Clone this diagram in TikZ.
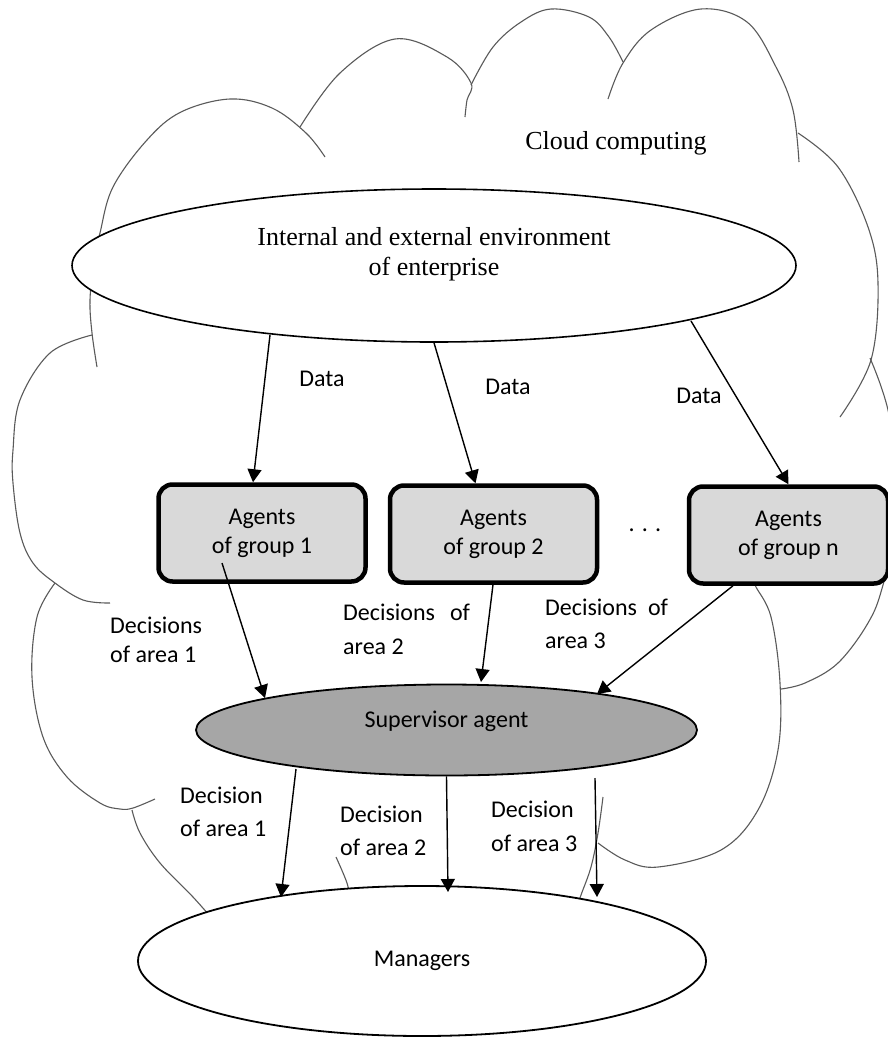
\documentclass[tikz,border=0pt]{standalone}
\usepackage{fontspec}
\setmainfont{Carlito}
\newfontfamily\tnr{Liberation Serif}
\usetikzlibrary{arrows.meta,shapes.geometric,calc}
\definecolor{boxgray}{HTML}{D9D9D9}
\definecolor{supgray}{HTML}{A6A6A6}
\definecolor{cloudgray}{HTML}{5A5A5A}
\begin{document}
\begin{tikzpicture}[x=1pt,y=1pt,
  cloudline/.style={draw=cloudgray, line width=1.1pt},
  ell/.style={ellipse, draw=black, line width=1.6pt, fill=white, inner sep=0pt},
  agentbox/.style={rectangle, rounded corners=14pt, draw=black, line width=4.5pt,
    fill=boxgray, minimum width=207pt, minimum height=97pt, inner sep=0pt,
    align=center, font=\fontsize{24}{29}\selectfont},
  arr/.style={-{Triangle[length=13pt,width=14pt]}, line width=1.4pt},
  lbl/.style={align=left, anchor=west, inner sep=0pt},
  sans/.style={inner sep=0pt, font=\fontsize{24}{29}\selectfont},
  serif/.style={inner sep=0pt, align=center, font=\tnr\fontsize{26}{30}\selectfont},
]
\useasboundingbox (0,0) rectangle (888,-1037);
\fill[white] (0,0) rectangle (888,-1037);

% cloud outline
\begin{scope}
\clip (0,0) rectangle (888,-1037);
\draw[cloudline] plot[smooth,tension=0.6] coordinates {(97,-367) (92,-333) (90,-300) (94,-262) (100,-233) (113,-187) (147,-140) (181,-112) (230,-99) (272,-108) (306,-133) (325,-157)};
\draw[cloudline] plot[smooth,tension=0.6] coordinates {(300,-127) (340,-73) (395,-39) (447,-57) (471,-83) (467,-100) (465,-117)};
\draw[cloudline] plot[smooth,tension=0.6] coordinates {(471,-85) (493,-47) (521,-22) (551,-9) (589,-17) (609,-37) (623,-62)};
\draw[cloudline] plot[smooth,tension=0.6] coordinates {(608,-99) (623,-63) (651,-30) (701,-9) (747,-22) (776,-67) (793,-110) (799,-162)};
\draw[cloudline] plot[smooth,tension=0.6] coordinates {(798,-133) (838,-167) (868,-227) (878,-283) (871,-360) (840,-417)};
\draw[cloudline] plot[smooth,tension=0.6] coordinates {(870,-358) (888,-410) (903,-500) (883,-585) (868,-623) (838,-663) (805,-683) (781,-689)};
\draw[cloudline] plot[smooth,tension=0.6] coordinates {(752,-572) (755,-585) (771,-617) (780,-683) (778,-750) (758,-810) (721,-850) (658,-867) (625,-860) (598,-843)};
\draw[cloudline] plot[smooth,tension=0.6] coordinates {(603,-797) (598,-833) (591,-867) (581,-895) (576,-910)};
\draw[cloudline] plot[smooth,tension=0.6] coordinates {(336,-857) (347,-883) (350,-900)};
\draw[cloudline] plot[smooth,tension=0.6] coordinates {(132,-810) (140,-833) (160,-863) (193,-897) (215,-922)};
\draw[cloudline] plot[smooth,tension=0.6] coordinates {(55,-583) (37,-617) (32,-677) (43,-737) (67,-777) (100,-803) (120,-809) (133,-808) (155,-799)};
\draw[cloudline] plot[smooth,tension=0.6] coordinates {(92,-335) (50,-353) (20,-400) (13,-450) (13,-483) (20,-533) (33,-563) (55,-583) (83,-600) (110,-603)};
\end{scope}

\node[serif] (cloudtxt) at (616,-143) {Cloud computing};

% environment
\node[ell, minimum width=724pt, minimum height=153pt] (env) at (434,-265.5) {};
\node[serif] (envtxt) at (434,-254) {Internal and external environment\\of enterprise};

% agent groups
\node[agentbox] (g1) at (262,-533) {Agents\\of group 1};
\node[agentbox] (g2) at (493.5,-534) {Agents\\of group 2};
\node[agentbox, minimum width=199pt] (gn) at (788.5,-535) {Agents\\of group n};
\node[sans] (dots) at (645,-530) {. . .};

% supervisor and managers
\node[ell, fill=supgray, line width=1.8pt, minimum width=501pt, minimum height=91pt] (sup) at (446.5,-730) {};
\node[sans] (suptxt) at (446.5,-721) {Supervisor agent};
\node[ell, line width=1.8pt, minimum width=568pt, minimum height=150pt, font=\fontsize{24}{29}\selectfont] (mgr) at (422,-961) {Managers};

% data arrows
\draw[arr] ($(env.center)+(-164,-69.5)$) -- ($(g1.north)+(-9,0)$);
\draw[arr] (env.south) -- ($(g2.north)+(-18,0)$);
\draw[arr] ($(env.center)+(257,-55.5)$) -- ($(gn.north)+(0,0)$);
\node[sans] (data1) at (322,-379) {Data};
\node[sans] (data2) at (508,-387) {Data};
\node[sans] (data3) at (699,-396) {Data};

% decisions arrows
\draw[arr] ($(g1.center)+(-40,-30)$) -- ($(sup.center)+(-181.5,32)$);
\draw[arr] ($(g2.south)+(-0.5,0)$) -- ($(sup.center)+(34.5,48)$);
\draw[arr] ($(gn.south)+(-55.5,0)$) -- ($(sup.center)+(150.5,36)$);
\node[lbl, font=\fontsize{24}{29}\selectfont] (lbl1) at (110,-639.5) {Decisions\\of area 1};
\node[lbl, font=\fontsize{24}{34}\selectfont] (lbl2) at (343,-629) {Decisions\hspace{15pt}of\\area 2};
\node[lbl, font=\fontsize{24}{33}\selectfont] (lbl3) at (545,-623.5) {Decisions\hspace{11pt}of\\area 3};

% decision arrows to managers
\draw[arr] ($(sup.center)+(-150.5,-39)$) -- ($(mgr.center)+(-141,64)$);
\draw[arr] (sup.south) -- ($(mgr.center)+(26,69)$);
\draw[arr] ($(sup.center)+(148.5,-48)$) -- ($(mgr.center)+(175,64)$);
\node[lbl, font=\fontsize{24}{33}\selectfont] (lbl4) at (180,-812) {Decision\\of area 1};
\node[lbl, font=\fontsize{24}{33}\selectfont] (lbl5) at (340,-830.5) {Decision\\of area 2};
\node[lbl, font=\fontsize{24}{34}\selectfont] (lbl6) at (491,-826) {Decision\\of area 3};
\end{tikzpicture}
\end{document}
